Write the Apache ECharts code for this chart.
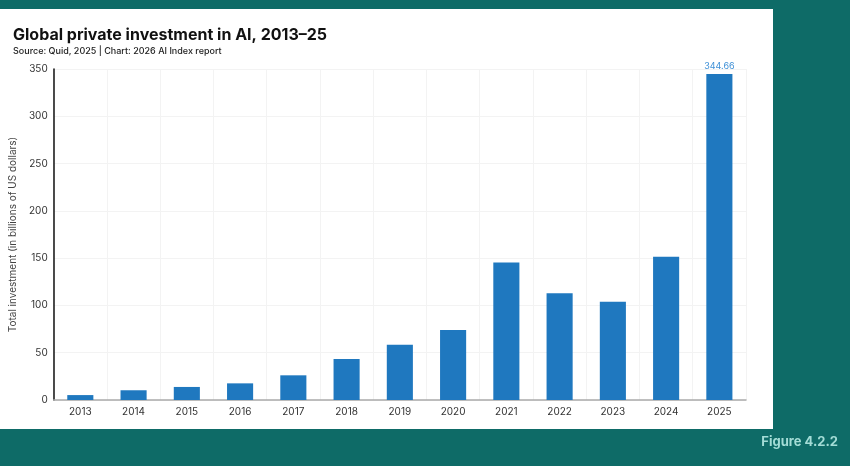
<!DOCTYPE html>
<html><head><meta charset="utf-8">
<script src="https://cdn.jsdelivr.net/npm/echarts@6/dist/echarts.min.js"></script>
<style>html,body{margin:0;padding:0;background:#0e6b67;}#c{width:850px;height:466px;}</style>
</head><body><div id="c"></div>
<script>
const years = ['2013','2014','2015','2016','2017','2018','2019','2020','2021','2022','2023','2024','2025'];
const investment = [5.2, 10.3, 13.8, 17.6, 26.1, 43.4, 58.5, 74.0, 145.3, 112.9, 104.0, 151.6, 344.66];
const labelledIndex = 12;

const font = 'Inter, "Noto Sans", sans-serif';
const chart = echarts.init(document.getElementById('c'), null, {renderer: 'canvas'});
chart.setOption({
  backgroundColor: '#0e6b67',
  animation: false,
  graphic: [
    {type: 'rect', z: -10, shape: {x: 0, y: 9, width: 773, height: 420}, style: {fill: '#ffffff'}},
    {type: 'text', left: 13, top: 27, style: {text: 'Global private investment in AI, 2013–25', font: 'bold 16px ' + font, fill: '#111'}},
    {type: 'text', left: 13, top: 47, style: {text: 'Source: Quid, 2025 | Chart: 2026 AI Index report', font: '500 9px ' + font, fill: '#222'}},
    {type: 'text', right: 12, top: 436, style: {text: 'Figure 4.2.2', font: 'bold 13px ' + font, fill: '#a3dcd6'}}
  ],
  grid: {left: 47, right: 104, top: 69, bottom: 66, containLabel: false},
  xAxis: {
    type: 'category', data: years,
    axisLine: {lineStyle: {color: '#aaaaaa', width: 1.5}},
    axisTick: {show: false},
    axisLabel: {color: '#333', fontSize: 10, fontFamily: font, margin: 7},
    splitLine: {show: true, lineStyle: {color: '#f3f3f3', width: 1}}
  },
  yAxis: {
    type: 'value', min: 0, max: 350, interval: 50,
    name: 'Total investment (in billions of US dollars)',
    nameLocation: 'middle', nameGap: 27,
    nameTextStyle: {color: '#444', fontSize: 10, fontFamily: font},
    axisLine: {show: true, lineStyle: {color: '#111', width: 1.5}},
    axisTick: {show: false},
    axisLabel: {color: '#333', fontSize: 10, fontFamily: font, margin: 6},
    splitLine: {lineStyle: {color: '#f3f3f3', width: 1}}
  },
  series: [{
    type: 'bar', data: investment.map((v, i) => i === labelledIndex ? {value: v, label: {show: true}} : v),
    barWidth: '49%',
    itemStyle: {color: '#1f78bf'},
    label: {show: false, position: 'top', color: '#3d8fd6', fontSize: 9, fontFamily: font, distance: 3}
  }]
});
</script></body></html>
